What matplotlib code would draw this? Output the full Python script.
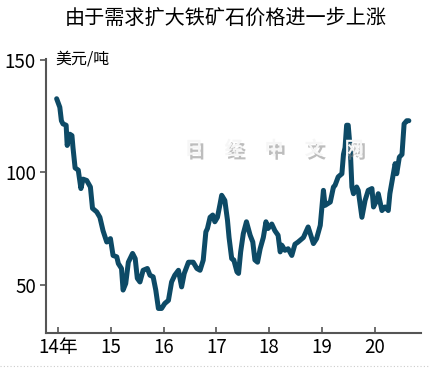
import matplotlib
matplotlib.use("Agg")
import matplotlib.pyplot as plt
import matplotlib.patheffects as pe
from matplotlib.lines import Line2D

plt.rcParams['font.family'] = ['Noto Sans CJK SC', 'DejaVu Sans']

# iron ore price, decimal year -> USD/ton
years = [2013.97, 2014.03, 2014.06, 2014.09, 2014.15, 2014.17, 2014.22, 2014.26, 2014.28, 2014.32,
         2014.38, 2014.43, 2014.47, 2014.54, 2014.61, 2014.65, 2014.73, 2014.79, 2014.85, 2014.92,
         2014.99, 2015.04, 2015.11, 2015.14, 2015.20, 2015.23, 2015.28, 2015.33, 2015.41, 2015.46,
         2015.50, 2015.55, 2015.61, 2015.69, 2015.74, 2015.80, 2015.85, 2015.90, 2015.96, 2016.02,
         2016.09, 2016.15, 2016.21, 2016.28, 2016.34, 2016.39, 2016.47, 2016.56, 2016.63, 2016.69,
         2016.75, 2016.80, 2016.83, 2016.88, 2016.93, 2016.97, 2017.02, 2017.07, 2017.10, 2017.16,
         2017.21, 2017.24, 2017.29, 2017.33, 2017.39, 2017.42, 2017.46, 2017.51, 2017.57, 2017.64,
         2017.69, 2017.73, 2017.78, 2017.83, 2017.89, 2017.94, 2017.98, 2018.05, 2018.11, 2018.17,
         2018.21, 2018.24, 2018.30, 2018.36, 2018.43, 2018.49, 2018.55, 2018.65, 2018.74, 2018.84,
         2018.90, 2018.97, 2019.03, 2019.06, 2019.16, 2019.22, 2019.25, 2019.31, 2019.38, 2019.41,
         2019.44, 2019.47, 2019.50, 2019.54, 2019.57, 2019.60, 2019.66, 2019.69, 2019.76, 2019.82,
         2019.88, 2019.95, 2019.98, 2020.04, 2020.07, 2020.14, 2020.20, 2020.26, 2020.29, 2020.39,
         2020.42, 2020.47, 2020.52, 2020.56, 2020.61, 2020.65]
price = [132.8, 129.0, 123.0, 121.6, 121.0, 112.0, 117.0, 116.4, 111.0, 102.0,
         101.0, 92.8, 97.0, 96.4, 93.5, 84.0, 82.4, 80.0, 74.0, 69.0,
         70.5, 63.0, 62.4, 59.4, 57.2, 47.6, 50.5, 60.0, 63.9, 61.6,
         52.8, 51.2, 56.4, 57.2, 54.2, 53.5, 47.6, 39.4, 39.4, 41.6,
         43.0, 51.2, 54.2, 56.4, 49.0, 55.0, 60.0, 60.0, 57.2, 56.4,
         60.9, 73.5, 75.0, 80.0, 81.0, 78.0, 80.0, 86.0, 89.8, 87.5,
         78.7, 71.0, 61.6, 61.0, 55.7, 55.0, 64.6, 72.7, 78.0, 72.0,
         69.0, 61.0, 60.0, 66.0, 71.0, 78.0, 75.0, 77.0, 74.0, 72.0,
         64.6, 67.6, 65.3, 66.0, 63.0, 68.0, 69.0, 71.0, 75.7, 68.3,
         70.5, 76.4, 92.0, 85.3, 86.8, 93.5, 94.2, 98.0, 99.4, 108.0,
         111.0, 121.0, 121.0, 109.8, 93.5, 90.5, 93.5, 92.0, 80.0, 87.5,
         92.0, 92.8, 84.6, 87.5, 90.5, 83.0, 84.6, 83.0, 90.5, 103.9,
         99.4, 106.8, 108.0, 121.6, 123.0, 123.0]

tick_years = [2014, 2015, 2016, 2017, 2018, 2019, 2020]
tick_labels = ['14年', '15', '16', '17', '18', '19', '20']
y_ticks = [50, 100, 150]

fig = plt.figure(figsize=(4.3, 3.71), dpi=100)
ax = fig.add_axes([0.106, 0.102, 0.873, 0.739])

ax.plot(years, price, color='#0d4a66', lw=3.6, solid_joinstyle='round', solid_capstyle='round')

ax.set_xlim(2013.76, 2020.88)
ax.set_ylim(28.4, 150.5)

ax.set_xticks(tick_years)
ax.set_xticklabels(tick_labels, fontsize=13.5)
ax.set_yticks(y_ticks)
ax.set_yticklabels([str(v) for v in y_ticks], fontsize=13.5)
ax.tick_params(axis='x', direction='in', length=4, width=1.2, color='#555555', pad=3)
ax.tick_params(axis='y', direction='out', length=4, width=1.2, color='#555555', pad=3)

for s in ['top', 'right']:
    ax.spines[s].set_visible(False)
for s in ['left', 'bottom']:
    ax.spines[s].set_color('#555555')
    ax.spines[s].set_linewidth(1.5)

ax.text(0.025, 1.0, '美元/吨', transform=ax.transAxes, fontsize=11.5, va='center', ha='left')

fig.text(0.525, 0.951, '由于需求扩大铁矿石价格进一步上涨', fontsize=14.5, ha='center', va='center',
         fontweight='medium')

# watermark
wm = fig.text(0.637, 0.598, '日     经     中     文     网', fontsize=13.5, ha='center', va='center',
              color='#f6f6f6', fontweight='bold')
wm.set_path_effects([pe.withSimplePatchShadow(offset=(2, -2.5), shadow_rgbFace='#888888', alpha=0.55)])

fig.add_artist(Line2D([0.0, 1.0], [0.013, 0.013], transform=fig.transFigure,
                      color='#cccccc', lw=0.8, ls=(0, (1, 2))))

fig.savefig('out.png', dpi=100)
